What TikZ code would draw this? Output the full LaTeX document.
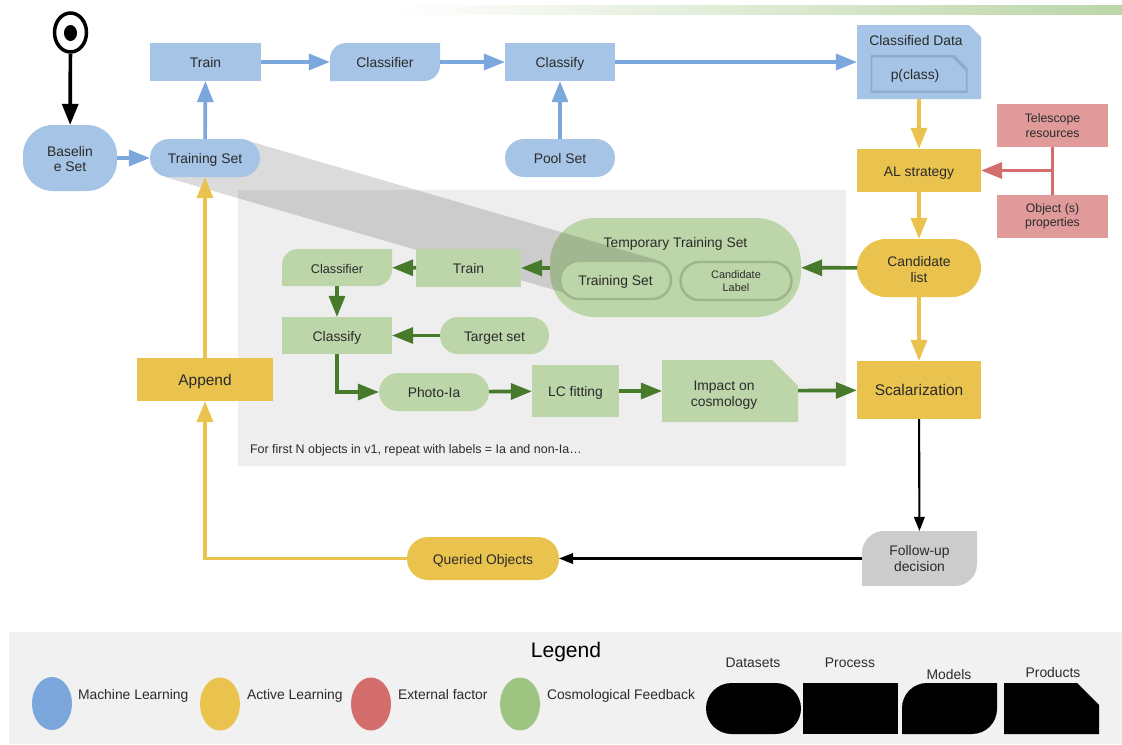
\documentclass[tikz,border=0pt]{standalone}
\usepackage{fontspec}
\setmainfont{Liberation Sans}
\usetikzlibrary{arrows.meta,shapes.geometric}
\definecolor{mlfill}{HTML}{A6C4E5}
\definecolor{mlline}{HTML}{7BA7DC}
\definecolor{mlrim}{HTML}{8FABCB}
\definecolor{alfill}{HTML}{E9C34E}
\definecolor{exfill}{HTML}{E09A9A}
\definecolor{exline}{HTML}{D36E6D}
\definecolor{cffill}{HTML}{BCD6AA}
\definecolor{cfline}{HTML}{477A2B}
\definecolor{cfdot}{HTML}{9FC482}
\definecolor{cfrim}{HTML}{9DB68B}
\definecolor{panelgrey}{HTML}{EEEEEE}
\definecolor{legendgrey}{HTML}{F1F1F1}
\definecolor{fupgrey}{HTML}{CCCCCC}
\definecolor{inkgrey}{HTML}{2B2B2B}
\tikzset{
  sz/.style 2 args={minimum width=#1*0.02cm,minimum height=#2*0.02cm},
  base/.style={inner sep=0pt,outer sep=0pt,align=center,text=inkgrey,text height=6.7pt,text depth=0pt,font=\fontsize{7.9}{9.5}\selectfont},
  multi/.style={text height=,text depth=},
  process/.style={base,rectangle,fill=#1},
  dataset/.style 2 args={base,rectangle,fill=#1,rounded corners=#2*0.02cm},
  model/.style 2 args={base,rectangle,path picture={
    \fill[#1] (path picture bounding box.south west) [rounded corners=#2*0.02cm]
      -- (path picture bounding box.north west) [sharp corners]
      -- (path picture bounding box.north east) [rounded corners=#2*0.02cm]
      -- (path picture bounding box.south east) [sharp corners] -- cycle;}},
  product/.style 2 args={base,rectangle,path picture={
    \path[#1] (path picture bounding box.south west)
      -- (path picture bounding box.north west)
      -- ([xshift=-#2*0.02cm]path picture bounding box.north east)
      -- ([yshift=-#2*0.02cm]path picture bounding box.south east |- path picture bounding box.north east)
      -- (path picture bounding box.south east) -- cycle;}},
  flow/.style={line width=2.1pt,draw=#1,-{Triangle[length=12pt,width=9pt]}},
  thinflow/.style={line width=1.2pt,draw=black,-{Triangle[length=8pt,width=6pt]}}
}
\begin{document}
\begin{tikzpicture}[x=0.02cm,y=-0.02cm]
 \useasboundingbox (0,0) rectangle (1122,744);
 \shade[left color=white,right color=cfdot!70!white] (395,5) rectangle (1122,14);
 \fill[panelgrey] (238,190) rectangle (846,466);
 \fill[legendgrey] (9,632) rectangle (1122,744);
 % temporary set sits under the grey band
 \node[dataset={cffill}{45},sz={251}{99}] (tempset) at (675.5,267.5) {};
 \fill[black,opacity=0.14] (245,140)--(657,260)--(565,293)--(165,177)--cycle;
 \node[base] (templabel) at (675.5,242) {Temporary Training Set};
 \node[dataset={cffill}{19},sz={111}{38},draw=cfrim,line width=1.4pt] (tempts) at (615.5,280) {Training Set};
 \node[dataset={cffill}{19},sz={111}{38},draw=cfrim,line width=1.4pt,multi,font=\fontsize{6.2}{7.6}\selectfont] (templabelset) at (736,281) {Candidate\\Label};

 \node[ellipse,draw=black,fill=white,line width=2pt,inner sep=0pt,sz={32}{39}] (start) at (70.5,32.5) {};
 \node[ellipse,fill=black,inner sep=0pt,sz={13}{16}] (startdot) at (70.5,33) {};

 \node[dataset={mlfill}{30},sz={94}{66},multi,font=\fontsize{7.9}{8.6}\selectfont] (baseline) at (70,158) {\rule{0pt}{6.8pt}Baselin\\e Set};
 \node[dataset={mlfill}{19},sz={110}{38}] (trainset) at (205,158) {Training Set};
 \node[dataset={mlfill}{19},sz={110}{38}] (poolset) at (560,158) {Pool Set};
 \node[process=mlfill,sz={111}{38}] (train) at (205.5,62) {Train};
 \node[model={mlfill}{16},sz={110}{38}] (classifier) at (385,62) {Classifier};
 \node[process=mlfill,sz={110}{38}] (classify) at (560,62) {Classify};
 \node[product={fill=mlfill}{12},sz={124}{74}] (classdata) at (919,62) {};
 \node[base] (classlabel) at (916,40) {Classified Data};
 \node[product={fill=mlfill,draw=mlrim,line width=2pt}{15},sz={97}{37}] (pclass) at (919,74) {p(class)\rule{4.5pt}{0pt}};

 \node[process=alfill,sz={124}{43}] (alstrategy) at (919,170.5) {AL strategy};
 \node[dataset={alfill}{29},sz={124}{58},multi] (candlist) at (919,268) {\rule{0pt}{7.5pt}Candidate\\list};
 \node[process=alfill,sz={124}{58},font=\fontsize{8.8}{10}\selectfont] (scalar) at (919,390) {Scalarization};
 \node[process=alfill,sz={136}{43},font=\fontsize{8.8}{10}\selectfont] (append) at (205,379.5) {Append};
 \node[dataset={alfill}{21},sz={152}{43}] (queried) at (483,558.5) {Queried Objects};
 \node[model={fupgrey}{22},sz={115}{55},multi] (followup) at (919.5,558.5) {Follow-up\\decision};

 \node[process=exfill,sz={111}{43},multi,font=\fontsize{7}{8.2}\selectfont] (telescope) at (1052.5,125.5) {Telescope\\resources};
 \node[process=exfill,sz={111}{43},multi,font=\fontsize{7}{8.2}\selectfont] (objprops) at (1052.5,216.5) {Object (s)\\properties};
 \coordinate (exjoin) at (1052.5,170.5);

 \node[process=cffill,sz={105}{38}] (gtrain) at (468.5,268) {Train};
 \node[model={cffill}{16},sz={110}{37},font=\fontsize{7.2}{9}\selectfont] (gclassifier) at (337,267.5) {Classifier};
 \node[process=cffill,sz={110}{37}] (gclassify) at (337,335.5) {Classify};
 \node[dataset={cffill}{18},sz={109}{37}] (target) at (494.5,335.5) {Target set};
 \node[dataset={cffill}{19},sz={110}{38}] (photo) at (434,392) {Photo-Ia};
 \node[process=cffill,sz={87}{52}] (lcfit) at (575.5,391) {LC fitting};
 \node[product={fill=cffill}{26},sz={136}{62},multi] (impact) at (730,391) {\rule{0pt}{10pt}Impact on\rule{6.8pt}{0pt}\\cosmology\rule{6.8pt}{0pt}};
 \node[base,anchor=west,font=\fontsize{7.1}{9}\selectfont] (note) at (250,448) {For first N objects in v1, repeat with labels = Ia and non-Ia…};

 \draw[flow=black] (start)--(baseline);
 \draw[flow=mlline] (baseline)--(trainset);
 \draw[flow=mlline] (trainset)--(train);
 \draw[flow=mlline] (train)--(classifier);
 \draw[flow=mlline] (classifier)--(classify);
 \draw[flow=mlline] (classify)--(classdata);
 \draw[flow=mlline] (poolset)--(classify);
 \draw[flow=alfill] (classdata)--(alstrategy);
 \draw[flow=alfill] (alstrategy)--(candlist);
 \draw[flow=alfill] (candlist)--(scalar);
 \draw[flow=alfill] (append)--(trainset);
 \draw[flow=alfill] (queried.west)-|(append.south);
 \draw[thinflow] (scalar)--(followup);
 \draw[thinflow] (followup)--(queried);
 \draw[line width=2.1pt,exline] (telescope)--(objprops);
 \draw[flow=exline] (exjoin)--(alstrategy);
 \draw[flow=cfline] (candlist)--(tempset);
 \draw[flow=cfline] (tempset.west |- gtrain)--(gtrain);
 \draw[flow=cfline] (gtrain)--(gclassifier);
 \draw[flow=cfline] (gclassifier)--(gclassify);
 \draw[flow=cfline] (target)--(gclassify);
 \draw[flow=cfline] (gclassify.south)|-(photo.west);
 \draw[flow=cfline] (photo)--(lcfit);
 \draw[flow=cfline] (lcfit)--(impact);
 \draw[flow=cfline] (impact)--(scalar);

 \node[base,text height=9.5pt,font=\fontsize{12}{14}\selectfont,text=black] (legend) at (566,649) {Legend};
 \foreach \n/\x/\y/\c/\t/\tx in {ml/52/703.5/mlline/Machine Learning/78,al/220/704/alfill/Active Learning/247,ex/371/704/exline/External factor/398,cf/520/704/cfdot/Cosmological Feedback/547}{
  \node[ellipse,fill=\c,inner sep=0pt,sz={40}{53}] (leg\n) at (\x,\y) {};
  \node[base,anchor=west] (legtxt\n) at (\tx,694) {\t};
 }
 \node[dataset={black}{25.5},sz={95}{51}] (legdata) at (753.5,708.5) {};
 \node[process=black,sz={95}{51}] (legproc) at (850.5,708.5) {};
 \node[model={black}{25},sz={95}{51}] (legmodel) at (949.5,708.5) {};
 \node[product={fill=black}{22},sz={95}{51}] (legprod) at (1051.5,708.5) {};
 \foreach \n/\x/\y/\t in {a/753/662/Datasets,b/850/662/Process,c/949/674/Models,d/1053/672/Products}
  \node[base] (legname\n) at (\x,\y) {\t};
\end{tikzpicture}
\end{document}
